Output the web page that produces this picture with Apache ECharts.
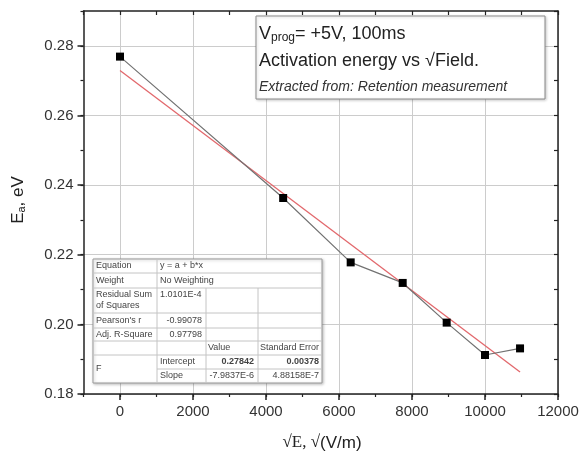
<!DOCTYPE html>
<html>
<head>
<meta charset="utf-8">
<script src="https://cdn.jsdelivr.net/npm/echarts@6/dist/echarts.min.js"></script>
<style>
  html, body { margin: 0; padding: 0; background: #fff; }
  #chart { width: 582px; height: 457px; }
</style>
</head>
<body>
<div id="chart"></div>
<script>
// measured points: sqrt(field) vs activation energy
const fieldX = [0, 4470, 6320, 7745, 8950, 10000, 10960];
const energyY = [0.2769, 0.2363, 0.2178, 0.2119, 0.2005, 0.1912, 0.1931];
const fitX = [0, 10960];
const fitY = [0.2729, 0.1863];

const xMajorTicks = [0, 2000, 4000, 6000, 8000, 10000, 12000];
const yMajorTicks = [0.18, 0.20, 0.22, 0.24, 0.26, 0.28];

// fit table text
const tableLabels = ['Equation', 'Weight', 'Residual Sum\nof Squares', "Pearson's r", 'Adj. R-Square'];
const tableValues = ['y = a + b*x', 'No Weighting', '1.0101E-4', '-0.99078', '0.97798'];
const paramHeaders = ['Value', 'Standard Error'];
const paramNames = ['Intercept', 'Slope'];
const paramValues = ['0.27842', '-7.9837E-6'];
const paramErrors = ['0.00378', '4.88158E-7'];

const SANS = 'Liberation Sans, Arial, sans-serif';
const SERIF = 'Liberation Serif, Times New Roman, serif';

function txt(x, y, text, opt) {
  opt = opt || {};
  return {
    type: 'text', z: 110,
    rotation: opt.rotation || 0,
    x: x, y: y,
    style: {
      text: text,
      x: 0, y: 0,
      fill: opt.fill || '#444',
      font: opt.font || ('9px ' + SANS),
      align: opt.align || 'left',
      textAlign: opt.align || 'left',
      verticalAlign: 'middle',
      textVerticalAlign: 'middle',
      rich: opt.rich,
      lineHeight: opt.lineHeight
    }
  };
}
function hline(x1, x2, y, color) {
  return { type: 'line', z: 105, shape: { x1: x1, y1: y, x2: x2, y2: y }, style: { stroke: color || '#c4c4c4', lineWidth: 1 } };
}
function vline(x, y1, y2, color) {
  return { type: 'line', z: 105, shape: { x1: x, y1: y1, x2: x, y2: y2 }, style: { stroke: color || '#c4c4c4', lineWidth: 1 } };
}

function buildTable() {
  const c = [93, 157, 206, 258, 322];
  const r = [259, 273, 288, 313, 328, 341, 355, 369, 383];
  const mid = i => (r[i] + r[i + 1]) / 2;
  const els = [];
  els.push({ type: 'rect', z: 100, shape: { x: c[0], y: r[0], width: c[4] - c[0], height: r[8] - r[0] },
    style: { fill: '#fff', stroke: '#999', lineWidth: 1, shadowBlur: 3, shadowColor: 'rgba(0,0,0,0.25)', shadowOffsetX: 1, shadowOffsetY: 1 } });
  [1, 2, 3, 4, 5, 6].forEach(i => els.push(hline(c[0], c[4], r[i])));
  els.push(hline(c[1], c[4], r[7]));
  els.push(vline(c[1], r[0], r[8]));
  els.push(vline(c[2], r[2], r[8]));
  els.push(vline(c[3], r[2], r[8]));
  tableLabels.forEach((t, i) => els.push(txt(c[0] + 3, mid(i), t, { lineHeight: 11 })));
  tableValues.forEach((t, i) => {
    if (i < 3) els.push(txt(c[1] + 3, i === 2 ? r[2] + 7 : mid(i), t));
    else els.push(txt(c[2] - 4, mid(i), t, { align: 'right' }));
  });
  els.push(txt(c[2] + 2, mid(5), paramHeaders[0]));
  els.push(txt(c[3] + 2, mid(5), paramHeaders[1]));
  paramNames.forEach((t, i) => {
    const y = mid(6 + i);
    const f = (i === 0 ? 'bold ' : '') + '9px ' + SANS;
    els.push(txt(c[1] + 3, y, t));
    els.push(txt(c[3] - 4, y, paramValues[i], { align: 'right', font: f }));
    els.push(txt(c[4] - 3, y, paramErrors[i], { align: 'right', font: f }));
  });
  els.push(txt(c[0] + 3, (r[6] + r[8]) / 2, 'F'));
  return els;
}

function buildNote() {
  return [
    { type: 'rect', z: 100, shape: { x: 256, y: 16, width: 289, height: 83 },
      style: { fill: '#fff', stroke: '#8a8a8a', lineWidth: 1, shadowBlur: 3, shadowColor: 'rgba(0,0,0,0.2)', shadowOffsetX: 1, shadowOffsetY: 1 } },
    txt(259, 34, '{v|V}{s|prog}{v|= +5V, 100ms}', { fill: '#222', font: '18px ' + SANS,
      rich: { v: { fontSize: 18, fontFamily: SANS, fill: '#222', color: '#222' },
              s: { fontSize: 12, fontFamily: SANS, fill: '#222', color: '#222', padding: [7, 0, 0, 0] } } }),
    txt(259, 61, 'Activation energy vs \u221AField.', { fill: '#222', font: '18px ' + SANS }),
    txt(259, 87, 'Extracted from: Retention measurement', { fill: '#333', font: 'italic 14px ' + SANS })
  ];
}

function buildAxisNames() {
  return [
    txt(322, 443, '{s|\u221AE, \u221A}{a|(V/m)}', { align: 'center', fill: '#222', font: '17px ' + SANS,
      rich: { s: { fontSize: 17, fontFamily: SERIF, color: '#222' }, a: { fontSize: 17, fontFamily: SANS, color: '#222' } } }),
    txt(18, 200, '{e|E}{s|a}{e|, eV}', { align: 'center', rotation: Math.PI / 2, fill: '#222', font: '17px ' + SANS,
      rich: { e: { fontSize: 17, fontFamily: SANS, color: '#222' }, s: { fontSize: 11, fontFamily: SANS, color: '#222', padding: [7, 0, 0, 0] } } })
  ];
}

const AXIS_COLOR = '#222';
const labelFont = { fontFamily: SANS, fontSize: 15, color: '#333' };

function xAxisPart(position, opts) {
  return Object.assign({
    type: 'value', position: position, min: -1000, max: 12000, interval: 1000,
    axisLine: { show: false, onZero: false },
    axisTick: { show: false },
    axisLabel: { show: false },
    splitLine: { show: false }
  }, opts);
}
function yAxisPart(position, opts) {
  return Object.assign({
    type: 'value', position: position, min: 0.18, max: 0.29, interval: 0.01,
    axisLine: { show: false, onZero: false },
    axisTick: { show: false },
    axisLabel: { show: false },
    splitLine: { show: false }
  }, opts);
}

const chart = echarts.init(document.getElementById('chart'));
const option = {
  animation: false,
  grid: { left: 83.5, right: 24, top: 11, bottom: 63, containLabel: false },
  xAxis: [
    xAxisPart('bottom', {
      axisLine: { show: true, onZero: false, lineStyle: { color: AXIS_COLOR, width: 1.5 } },
      axisTick: { show: true, length: 6, customValues: xMajorTicks, lineStyle: { color: AXIS_COLOR, width: 1.5 } },
      axisLabel: Object.assign({ show: true, margin: 10, customValues: xMajorTicks, formatter: v => String(v) }, labelFont),
      splitLine: { show: true, lineStyle: { color: '#cccccc', width: 1 } }
    }),
    xAxisPart('bottom', { axisTick: { show: true, length: 3, lineStyle: { color: AXIS_COLOR, width: 1.2 } } }),
    xAxisPart('top', {
      axisLine: { show: true, onZero: false, lineStyle: { color: AXIS_COLOR, width: 1.5 } },
      axisTick: { show: true, inside: true, length: 4, lineStyle: { color: AXIS_COLOR, width: 1.2 } }
    })
  ],
  yAxis: [
    yAxisPart('left', {
      axisLine: { show: true, onZero: false, lineStyle: { color: AXIS_COLOR, width: 1.5 } },
      axisTick: { show: true, length: 6, customValues: yMajorTicks, lineStyle: { color: AXIS_COLOR, width: 1.5 } },
      axisLabel: Object.assign({ show: true, margin: 10, customValues: yMajorTicks, formatter: v => v.toFixed(2) }, labelFont),
      splitLine: { show: true, lineStyle: { color: '#cccccc', width: 1 } }
    }),
    yAxisPart('left', { axisTick: { show: true, length: 3, lineStyle: { color: AXIS_COLOR, width: 1.2 } } }),
    yAxisPart('right', {
      axisLine: { show: true, onZero: false, lineStyle: { color: AXIS_COLOR, width: 1.5 } },
      axisTick: { show: true, inside: true, length: 4, lineStyle: { color: AXIS_COLOR, width: 1.2 } }
    })
  ],
  series: [
    {
      name: 'fit', type: 'line', xAxisIndex: 0, yAxisIndex: 0,
      data: fitX.map((x, i) => [x, fitY[i]]),
      showSymbol: false, symbol: 'none',
      lineStyle: { color: '#e2686c', width: 1.3 },
      z: 3
    },
    {
      name: 'Ea', type: 'line', xAxisIndex: 0, yAxisIndex: 0,
      data: fieldX.map((x, i) => [x, energyY[i]]),
      symbol: 'rect', symbolSize: 8,
      itemStyle: { color: '#000' },
      lineStyle: { color: '#727272', width: 1.2 },
      z: 4
    }
  ],
  graphic: { elements: buildTable().concat(buildNote(), buildAxisNames()) }
};
chart.setOption(option);
</script>
</body>
</html>
